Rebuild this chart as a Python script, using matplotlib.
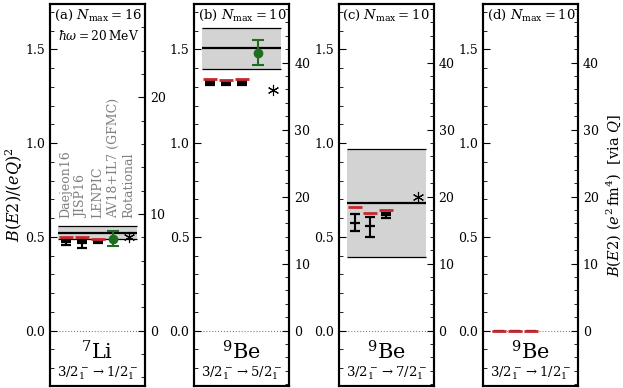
import numpy as np
import matplotlib
matplotlib.use("Agg")
import matplotlib.pyplot as plt
from matplotlib.ticker import MultipleLocator

plt.rcParams['font.family'] = ['DejaVu Serif']
plt.rcParams['mathtext.fontset'] = 'dejavuserif'

# interactions (x positions 1..3), then GFMC (4) and rotational (5)
interactions = ['Daejeon16', 'JISP16', 'LENPIC']
labels_a = ['Daejeon16', 'JISP16', 'LENPIC', 'AV18+IL7 (GFMC)', 'Rotational']

panel_tags = ['(a)', '(b)', '(c)', '(d)']
nmax = [16, 10, 10, 10]
nuclei = [r'$^{7}$Li', r'$^{9}$Be', r'$^{9}$Be', r'$^{9}$Be']
transitions = [r'$3/2^-_1 \rightarrow 1/2^-_1$', r'$3/2^-_1 \rightarrow 5/2^-_1$',
               r'$3/2^-_1 \rightarrow 7/2^-_1$', r'$3/2^-_1 \rightarrow 1/2^-_1$']
# quadrupole moments (fm^2) used for the right axis
Q = [4.009, 5.29, 5.29, 5.29]

# red = extrapolated / final, black = sequence of Nmax values
red_vals = [
    [0.500, 0.500, 0.490],
    [1.342, 1.337, 1.340],
    [0.661, 0.629, 0.644],
    [0.0, 0.0, 0.0],
]
black_vals = [
    [[0.487, 0.480, 0.472, 0.456], [0.487, 0.478, 0.465, 0.442], [0.480, 0.474, 0.468]],
    [[1.333, 1.325, 1.318, 1.312], [1.328, 1.320, 1.313, 1.308], [1.332, 1.325, 1.318, 1.312]],
    [[0.622, 0.574, 0.533], [0.608, 0.560, 0.501], [0.629, 0.617, 0.603]],
    [[0.0], [0.0], [0.0]],
]
# GFMC value, lower err, upper err (None if absent)
gfmc = [(0.487, 0.034, 0.045), (1.483, 0.067, 0.067), None, None]
rotational = [0.500, 1.283, 0.715, None]
# experiment: center, half-width
experiment = [(0.523, 0.033), (1.506, 0.108), (0.683, 0.288), None]

red = '#c8282d'
green = '#1e6e1e'

fig = plt.figure(figsize=(6.23, 3.88), dpi=100)
lefts = [50, 194.3, 338.7, 483]
ylo, yhi = -0.295, 1.742

for i in range(4):
    ax = fig.add_axes([lefts[i] / 623, 2 / 388, 95 / 623, 382 / 388])
    ax.set_xlim(0, 6)
    ax.set_ylim(ylo, yhi)
    ax.set_xticks([])
    ax.yaxis.set_major_locator(MultipleLocator(0.5))
    ax.yaxis.set_minor_locator(MultipleLocator(0.1))
    ax.tick_params(axis='y', which='both', direction='in', labelsize=9)
    ax.tick_params(axis='y', which='major', length=5)
    ax.tick_params(axis='y', which='minor', length=3)
    for sp in ax.spines.values():
        sp.set_linewidth(1.5)

    ax.axhline(0, color='gray', ls=':', lw=0.8, zorder=1)

    if experiment[i] is not None:
        c, w = experiment[i]
        ax.fill_between([0.5, 5.5], c - w, c + w, color='#d3d3d3', lw=0, zorder=0)
        ax.hlines([c - w, c + w], 0.5, 5.5, color='black', lw=0.9, zorder=1)
        ax.hlines(c, 0.5, 5.5, color='black', lw=1.6, zorder=1)

    for j in range(len(interactions)):
        x = j + 1
        vals = black_vals[i][j]
        ax.vlines(x, min(vals), max(vals), color='black', lw=1.5, zorder=3)
        ax.plot([x] * len(vals), vals, ls='none', marker='_', ms=7,
                mew=1.6, color='black', zorder=3)
        ax.plot(x, red_vals[i][j], ls='none', marker='_', ms=10,
                mew=2.0, color=red, zorder=4)

    if gfmc[i] is not None:
        v, lo, hi = gfmc[i]
        ax.errorbar(4, v, yerr=[[lo], [hi]], fmt='o', color=green, ms=6,
                    capsize=4, elinewidth=1.5, capthick=1.5, zorder=4)

    if rotational[i] is not None:
        ax.plot(5, rotational[i], ls='none', marker=(6, 2, 0), ms=8,
                mew=0.8, color='black', zorder=4)

    ax.text(0.04, 0.99, panel_tags[i] + r' $N_{\max}=%d$' % nmax[i],
            transform=ax.transAxes, ha='left', va='top', fontsize=9.5)
    if i == 0:
        ax.text(0.94, 0.935, r'$\hbar\omega = 20\,\mathrm{MeV}$',
                transform=ax.transAxes, ha='right', va='top', fontsize=8.8)
        for k, lab in enumerate(labels_a):
            ax.text(k + 1, 0.60, lab, rotation=90, ha='center', va='bottom',
                    color='gray', fontsize=9)

    ax.text(0.5, 0.09, nuclei[i], transform=ax.transAxes, ha='center',
            va='center', fontsize=15)
    ax.text(0.5, 0.034, transitions[i], transform=ax.transAxes, ha='center',
            va='center', fontsize=9.5)

    # right axis: B(E2) in e^2 fm^4
    ax2 = ax.twinx()
    q2 = Q[i] ** 2
    ax2.set_ylim(ylo * q2, yhi * q2)
    ax2.yaxis.set_major_locator(MultipleLocator(10))
    ax2.yaxis.set_minor_locator(MultipleLocator(2))
    ax2.tick_params(axis='y', which='both', direction='in', labelsize=9)
    ax2.tick_params(axis='y', which='major', length=5)
    ax2.tick_params(axis='y', which='minor', length=3)
    ax2.set_yticks([t for t in range(0, 50, 10) if t <= yhi * q2])
    for sp in ax2.spines.values():
        sp.set_linewidth(1.5)

    if i == 0:
        ax.set_ylabel(r'$B(E2)/(eQ)^2$', fontsize=11.5, labelpad=0)
    if i == 3:
        ax2.set_ylabel(r'$B(E2)$ $(e^2\,\mathrm{fm}^4)$  [via $Q$]', fontsize=10.5,
                       labelpad=4)

fig.savefig('out.png', dpi=100)
